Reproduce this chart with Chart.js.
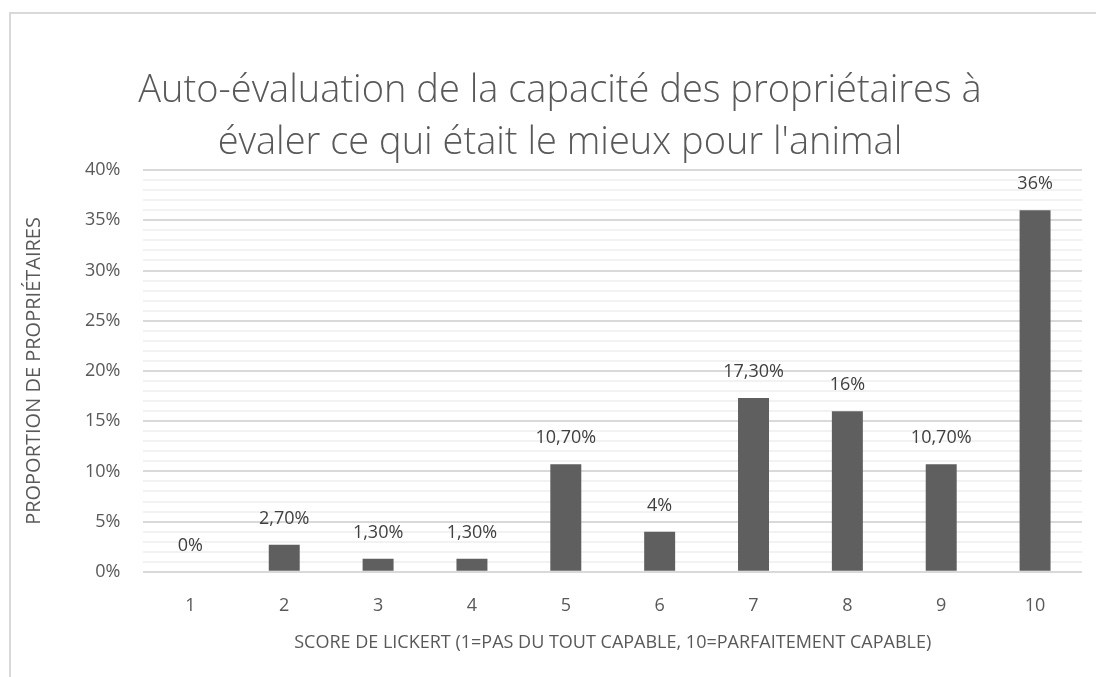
<!DOCTYPE html>
<html>
<head>
<meta charset="utf-8">
<script src="https://cdn.jsdelivr.net/npm/chart.js@4/dist/chart.umd.min.js"></script>
<style>
  body { margin: 0; background: #fff; }
  #frame { position: absolute; left: 9px; top: 12px; width: 1200px; height: 800px;
           border-left: 2px solid #d9d9d9; border-top: 2px solid #d9d9d9; }
  #wrap { position: absolute; left: 0; top: 0; width: 1096px; height: 677px; }
</style>
</head>
<body>
<div id="frame"></div>
<div id="wrap"><canvas id="chart"></canvas></div>
<script>
const scores = ['1', '2', '3', '4', '5', '6', '7', '8', '9', '10'];
const proportions = [0, 2.7, 1.3, 1.3, 10.7, 4, 17.3, 16, 10.7, 36];
const valueLabels = ['0%', '2,70%', '1,30%', '1,30%', '10,70%', '4%', '17,30%', '16%', '10,70%', '36%'];

const textColor = '#595959';
const font = "'Open Sans', 'Liberation Sans', sans-serif";

// draws the value above each bar
const barLabels = {
    id: 'barLabels',
    afterDatasetsDraw(chart) {
        const ctx = chart.ctx;
        const meta = chart.getDatasetMeta(0);
        ctx.save();
        ctx.font = '18px ' + font;
        ctx.fillStyle = '#404040';
        ctx.textAlign = 'center';
        ctx.textBaseline = 'middle';
        meta.data.forEach((bar, i) => {
            ctx.fillText(valueLabels[i], bar.x, bar.y - 26);
        });
        ctx.restore();
    }
};

const ctx = document.getElementById('chart').getContext('2d');
new Chart(ctx, {
    type: 'bar',
    data: {
        labels: scores,
        datasets: [{
            data: proportions,
            backgroundColor: '#5f5f5f',
            barPercentage: 0.33,
            categoryPercentage: 1
        }]
    },
    options: {
        responsive: true,
        maintainAspectRatio: false,
        animation: false,
        layout: { padding: { left: 38, right: 14, top: 22, bottom: 23 } },
        plugins: {
            legend: { display: false },
            tooltip: { enabled: false },
            title: {
                display: true,
                text: ['Auto-évaluation de la capacité des propriétaires à', "évaler ce qui était le mieux pour l'animal"],
                color: textColor,
                font: { family: font, size: 38, weight: '300', lineHeight: 1.37 },
                padding: { top: 43, bottom: 1 }
            }
        },
        scales: {
            x: {
                grid: { display: false, drawTicks: false },
                border: { display: false },
                ticks: { color: textColor, font: { family: font, size: 18 }, padding: 23 },
                title: {
                    display: true,
                    text: 'SCORE DE LICKERT (1=PAS DU TOUT CAPABLE, 10=PARFAITEMENT CAPABLE)',
                    color: textColor,
                    font: { family: font, size: 18 },
                    padding: { top: -7, bottom: 0 }
                }
            },
            y: {
                min: 0,
                max: 40,
                grid: {
                    drawTicks: false,
                    lineWidth: 2,
                    color: c => c.tick && c.tick.value % 5 === 0 ? '#d9d9d9' : '#f2f2f2'
                },
                border: { display: false },
                ticks: {
                    stepSize: 1,
                    autoSkip: false,
                    color: textColor,
                    font: { family: font, size: 18 },
                    padding: 23,
                    callback: v => v % 5 === 0 ? v + '%' : ''
                },
                title: {
                    display: true,
                    text: 'PROPORTION DE PROPRIÉTAIRES',
                    color: textColor,
                    font: { family: font, size: 20 },
                    padding: { top: -16, bottom: 16 }
                }
            }
        }
    },
    plugins: [barLabels]
});
</script>
</body>
</html>
